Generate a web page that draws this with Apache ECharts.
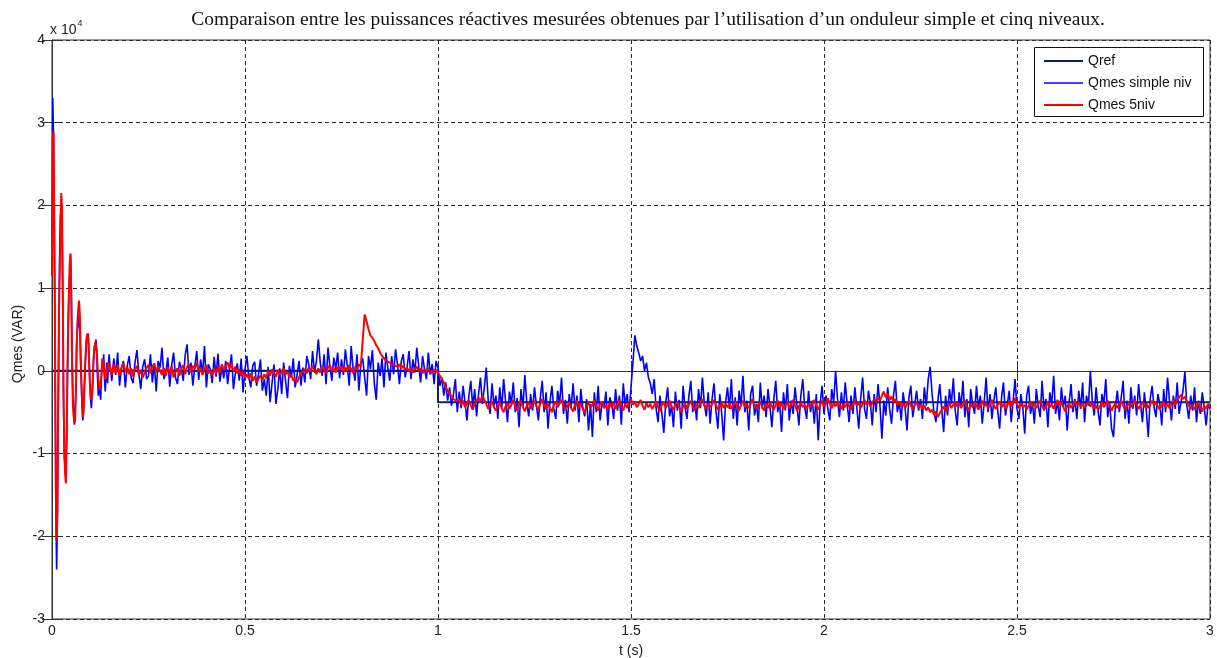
<!DOCTYPE html>
<html>
<head>
<meta charset="utf-8">
<script src="https://cdn.jsdelivr.net/npm/echarts@6/dist/echarts.min.js"></script>
<style>
  html, body { margin: 0; padding: 0; background: #fff; }
  #chart { width: 1217px; height: 658px; }
</style>
</head>
<body>
<div id="chart"></div>
<script>
// Reactive power values are stored in hundreds of VAR (axis labels show units of 10^4 VAR).

// Reference set-point: step at t = 1 s
const qrefTimes = [0, 1, 1, 3];
const qrefValues = [0, 0, -38, -38];

// Sampling of the measured signals
const startStep = 0.002;   // s, start-up transient (0 to 0.148 s)
const mainStart = 0.15;    // s
const mainStep = 0.005;    // s, from 0.15 s to 3 s

// Qmes, single-level inverter: start-up transient
const simpleStart = [
  120, 330, 280, 170, 30, -170, -240, -180, -60, 60,
  150, 190, 170, 190, 80, -50, -105, -120, -100, -90,
  -10, 50, 100, 120, 140, 100, 20, -30, -50, -65,
  -45, -25, 35, 50, 55, 70, 60, 10, -15, -45,
  -60, -40, -15, 5, 25, 40, 35, 45, 15, -10,
  -35, -45, -30, -10, 20, 30, 25, 38, 20, -10,
  -30, -20, -25, -35, -10, 15, 5, 20, -10, -25,
  -5, 10, -15, 5, 20
];

// Qmes, single-level inverter: 0.15 s to 3 s
const simpleMain = [
  8, -12, 15, -5, 22, -18, 3, 12, -20, 6, 18, -8, -15, 10, 25, -3, -22, 5, 14, -10,
  -6, 20, -14, 9, -25, 12, 4, 28, -10, -2, 16, -19, 7, 22, -8, -16, 11, 3, -12, 19,
  32, -5, 10, -18, 6, 24, -11, 14, -4, 30, -20, 8, 2, -15, 17, -7, 21, -13, 5, -9,
  12, -16, 4, 20, -22, -3, 9, -12, 15, -26, 2, 18, -8, -20, 6, 11, -18, -4, 14, -24,
  -10, -30, 5, -38, -15, 8, -40, -22, 3, -28, 10, -12, -33, 6, -8, 15, -20, -5, 12, -18,
  4, -14, 18, 8, -10, 24, -2, 12, 38, 10, -6, 20, -16, 28, 5, -12, 16, 2, 22, -9,
  14, -5, 26, 6, -18, 30, 3, -12, 20, -24, 8, 15, -8, -30, 18, 2, 25, -15, -35, 10,
  -6, 15, -20, 22, 4, -12, 18, -4, 26, 8, -16, 12, 20, -8, 5, 24, -10, 14, -2, 28,
  6, -14, 18, 2, -10, 22, -4, 8, -16, 12, 4, -18, -8, -30, -14, -36, -20, -42, -28, -10,
  -50, -25, -45, -18, -38, -60, -30, -12, -44, -22, -55, -28, -8, -40, -20, 4, -35, -52, -15, -42,
  -30, -58, -20, -46, -10, -36, -62, -25, -40, -14, -50, -33, -68, -22, -45, -5, -38, -55, -28, -48,
  -20, -42, -60, -32, -12, -50, -26, -70, -38, -18, -46, -58, -24, -40, -8, -52, -35, -64, -28, -44,
  -15, -48, -30, -62, -22, -44, -55, -34, -72, -40, -80, -26, -50, -18, -60, -38, -45, -25, -66, -32,
  -40, -58, -22, -48, -30, -65, -15, -42, -28, -50, -20, 10, 43, 30, 22, 12, 18, 0, 10, -8,
  -15, -28, -10, -45, -62, -30, -52, -75, -38, -20, -55, -42, -68, -25, -48, -35, -70, -18, -44, -58,
  -30, -12, -50, -36, -60, -22, -45, -8, -40, -55, -26, -64, -34, -15, -48, -70, -28, -52, -84, -38,
  -20, -46, -10, -58, -32, -66, -24, -42, -6, -50, -36, -72, -28, -18, -54, -40, -62, -14, -46, -30,
  -56, -22, -44, -68, -34, -12, -50, -38, -74, -26, -48, -16, -60, -36, -52, -20, -42, -66, -30, -10,
  -44, -58, -24, -50, -36, -64, -28, -84, -40, -18, -52, -30, -46, -60, -22, -38, 0, -34, -56, -26,
  -48, -14, -40, -62, -30, -52, -20, -44, -70, -34, -8, -46, -58, -24, -38, -66, -28, -50, -16, -42,
  -82, -36, -54, -20, -46, -64, -30, -12, -50, -38, -60, -26, -44, -72, -32, -18, -56, -40, -24, -48,
  -34, -58, -20, -42, -10, 5, -28, -50, -62, -36, -16, -46, -74, -30, -54, -22, -40, -9, -48, -66,
  -26, -44, -12, -56, -34, -68, -22, -40, -52, -18, -46, -30, -64, -38, -8, -50, -28, -58, -36, -20,
  -48, -70, -32, -14, -54, -40, -24, -62, -36, -10, -46, -58, -28, -44, -76, -30, -18, -52, -38, -64,
  -22, -42, -56, -12, -48, -34, -68, -26, -40, -6, -52, -36, -60, -20, -44, -30, -72, -38, -16, -50,
  -34, -58, -24, -46, -14, -62, -30, -42, 0, -36, -54, -20, -48, -66, -28, -40, -10, -56, -38, -70,
  -80, -42, -24, -50, -32, -12, -58, -36, -64, -20, -46, -30, -54, -16, -40, -62, -26, -48, -80, -34,
  -18, -44, -56, -28, -40, -66, -22, -50, -8, -36, -60, -30, -46, -14, -52, -38, -24, -1, -42, -58,
  -30, -48, -20, -62, -36, -52, -26, -44, -66, -40, -46
];

// Qmes, five-level inverter: start-up transient
const fiveStart = [
  115, 280, 290, 170, 20, -150, -205, -170, -40, 70,
  120, 175, 215, 195, 90, -30, -95, -125, -136, -80,
  0, 60, 95, 130, 142, 90, 10, -40, -55, -63,
  -60, -20, 30, 60, 75, 85, 70, 30, -10, -40,
  -56, -50, -20, 10, 30, 42, 45, 38, 10, -15,
  -30, -35, -30, -5, 15, 28, 35, 37, 25, 5,
  -10, -20, -23, -15, -5, 8, 14, 10, -2, -10,
  -12, -4, 6, 10, 2
];

// Qmes, five-level inverter: 0.15 s to 3 s
const fiveMain = [
  6, -5, 8, -3, 7, -6, 4, 9, -2, 5, -4, 3, -7, 2, 6, -5, 1, -8, -2, 4,
  7, -3, 5, 9, -2, 6, 0, -5, 3, -6, 4, -3, 6, -8, -1, 3, -6, 2, 7, -4,
  5, 8, -2, 6, 3, 10, -1, 4, -5, 2, 7, -3, 0, -6, 3, -4, 5, -2, 8, 1,
  6, 10, 3, 8, 0, 5, -3, 2, -6, -1, -8, -4, -10, -3, -12, -7, -14, -9, -6, -11,
  -4, -9, 0, -6, 2, -3, -7, 1, -5, -2, 3, -4, -1, -8, -5, -12, -9, -14, -8, -3,
  -5, 2, -3, 4, -1, 6, 0, -4, 3, -2, 5, 1, -3, 4, 7, 0, 3, -2, 5, 2,
  6, -1, 4, 0, 7, 2, -3, 5, 1, 8, 5, 38, 68, 60, 50, 43, 40, 36, 31, 27,
  22, 18, 16, 12, 14, 10, 12, 7, 9, 5, 8, 3, 6, 1, 4, -1, 3, -2, 2, 5,
  0, 3, -3, 2, -1, 4, -4, 0, -2, 1, -3, -6, -10, -14, -20, -24, -27, -31, -34, -32,
  -37, -34, -41, -36, -44, -39, -35, -42, -47, -40, -36, -32, -38, -29, -35, -40, -46, -41, -37, -44,
  -48, -42, -38, -45, -50, -43, -39, -46, -41, -35, -43, -48, -40, -36, -44, -49, -42, -38, -46, -41,
  -36, -43, -47, -39, -34, -42, -46, -40, -45, -50, -41, -37, -44, -39, -35, -42, -47, -43, -38, -45,
  -49, -41, -36, -44, -40, -46, -51, -43, -38, -45, -41, -35, -43, -48, -40, -37, -45, -42, -47, -39,
  -44, -38, -46, -41, -36, -43, -48, -40, -45, -39, -34, -41, -37, -44, -40, -35, -42, -47, -39, -44,
  -40, -46, -42, -37, -44, -49, -41, -38, -45, -40, -36, -43, -47, -41, -38, -44, -50, -43, -39, -46,
  -41, -36, -43, -48, -40, -45, -38, -34, -42, -46, -39, -44, -40, -35, -41, -47, -43, -38, -45, -40,
  -44, -39, -46, -42, -37, -43, -48, -41, -36, -44, -40, -45, -39, -34, -42, -46, -41, -37, -44, -48,
  -40, -45, -38, -43, -47, -41, -36, -44, -39, -46, -42, -37, -45, -40, -35, -42, -48, -43, -38, -44,
  -41, -46, -39, -44, -40, -35, -42, -47, -41, -36, -43, -38, -33, -40, -45, -39, -43, -37, -42, -46,
  -40, -44, -38, -43, -47, -41, -36, -42, -38, -45, -40, -35, -41, -37, -43, -39, -34, -38, -32, -36,
  -30, -25, -32, -28, -35, -31, -38, -34, -41, -37, -43, -39, -45, -40, -36, -42, -47, -41, -38, -44,
  -40, -46, -42, -48, -44, -50, -47, -53, -49, -56, -51, -47, -43, -49, -44, -39, -45, -41, -37, -43,
  -39, -45, -41, -36, -43, -48, -40, -44, -38, -42, -47, -41, -36, -43, -39, -45, -40, -35, -42, -46,
  -41, -37, -44, -40, -46, -42, -36, -43, -38, -33, -40, -45, -39, -44, -41, -47, -42, -37, -43, -39,
  -45, -40, -36, -42, -47, -43, -38, -44, -40, -46, -41, -35, -42, -38, -44, -49, -43, -39, -45, -41,
  -36, -42, -38, -44, -40, -45, -41, -37, -43, -39, -46, -42, -47, -43, -38, -44, -40, -36, -42, -48,
  -43, -39, -45, -41, -36, -42, -47, -43, -38, -44, -40, -35, -41, -46, -42, -37, -44, -39, -45, -40,
  -36, -42, -38, -43, -47, -41, -37, -44, -40, -45, -39, -35, -41, -36, -32, -29, -34, -31, -37, -42,
  -46, -41, -47, -43, -38, -45, -49, -42, -46, -40, -44
];

const seriesNames = ['Qref', 'Qmes simple niv', 'Qmes 5niv'];
const seriesColors = ['#0f1f5a', '#0000ff', '#ff0000'];
const titleText = 'Comparaison entre les puissances réactives mesurées obtenues par l\u2019utilisation d\u2019un onduleur simple et cinq niveaux.';

function toPairs(t0, step, values) {
  return values.map((v, i) => [+(t0 + i * step).toFixed(4), v]);
}

const qrefData = qrefTimes.map((t, i) => [t, qrefValues[i]]);
const simpleData = toPairs(0, startStep, simpleStart).concat(toPairs(mainStart, mainStep, simpleMain));
const fiveData = toPairs(0, startStep, fiveStart).concat(toPairs(mainStart, mainStep, fiveMain));

const sansFont = '"Liberation Sans", Arial, sans-serif';
const serifFont = '"Liberation Serif", "Times New Roman", serif';
const axisColor = '#333';
const gridLine = { show: true, lineStyle: { type: [4, 3], color: '#2a2a2a', width: 1 } };
const tickStyle = { show: true, inside: true, length: 10, lineStyle: { color: axisColor } };

const chart = echarts.init(document.getElementById('chart'), null, { renderer: 'canvas' });

chart.setOption({
  animation: false,
  backgroundColor: '#fff',
  grid: {
    left: 52, right: 7, top: 40, bottom: 39,
    outerBoundsMode: 'none',
    show: true, borderColor: axisColor, borderWidth: 1, backgroundColor: '#fff'
  },
  xAxis: [
    {
      type: 'value', min: 0, max: 3, interval: 0.5,
      axisLine: { show: true, lineStyle: { color: axisColor } },
      axisTick: tickStyle,
      axisLabel: {
        color: '#222', fontFamily: sansFont, fontSize: 14, margin: 5,
        formatter: v => String(+v.toFixed(2))
      },
      splitLine: gridLine,
      name: 't (s)', nameLocation: 'middle', nameGap: 25,
      nameTextStyle: { color: '#222', fontFamily: sansFont, fontSize: 14 }
    },
    {
      type: 'value', position: 'top', min: 0, max: 3, interval: 0.5,
      axisLine: { show: true, lineStyle: { color: axisColor } },
      axisTick: tickStyle, axisLabel: { show: false }, splitLine: { show: false }
    }
  ],
  yAxis: [
    {
      type: 'value', min: -300, max: 400, interval: 100,
      axisLine: { show: true, lineStyle: { color: axisColor } },
      axisTick: tickStyle,
      axisLabel: {
        color: '#222', fontFamily: sansFont, fontSize: 14, margin: 7,
        formatter: v => String(Math.round(v / 100))
      },
      splitLine: gridLine
    },
    {
      type: 'value', position: 'right', min: -300, max: 400, interval: 100,
      axisLine: { show: true, lineStyle: { color: axisColor } },
      axisTick: tickStyle, axisLabel: { show: false }, splitLine: { show: false }
    }
  ],
  legend: {
    data: seriesNames,
    orient: 'vertical',
    left: 1043, top: 54,
    itemWidth: 39, itemHeight: 14, itemGap: 8,
    padding: 0,
    itemStyle: { opacity: 0 },
    lineStyle: { width: 'inherit' },
    textStyle: { color: '#111', fontFamily: sansFont, fontSize: 14 },
    z: 6
  },
  graphic: [
    {
      type: 'text', x: 648, y: 20, z: 10,
      style: { text: titleText, font: '19.5px ' + serifFont, fill: '#111', align: 'center', verticalAlign: 'middle' }
    },
    {
      type: 'text', x: 50, y: 19, z: 10,
      style: {
        text: '{b|x 10}{s|4}',
        rich: {
          b: { font: '14px ' + sansFont, fill: '#222', verticalAlign: 'bottom' },
          s: { font: '9px ' + sansFont, fill: '#222', verticalAlign: 'top', padding: [0, 0, 9, 1] }
        }
      }
    },
    {
      type: 'text', x: 18, y: 344, rotation: Math.PI / 2, z: 10,
      style: { text: 'Qmes (VAR)', font: '14px ' + sansFont, fill: '#222', align: 'center', verticalAlign: 'middle' }
    },
    {
      type: 'rect', z: 5,
      shape: { x: 1034.5, y: 47.5, width: 169, height: 69 },
      style: { fill: '#fff', stroke: '#111', lineWidth: 1 }
    }
  ],
  series: [
    {
      name: seriesNames[0], type: 'line', data: qrefData,
      symbol: 'none', showSymbol: false, z: 2,
      lineStyle: { color: seriesColors[0], width: 2 }, itemStyle: { color: seriesColors[0] }
    },
    {
      name: seriesNames[1], type: 'line', data: simpleData,
      symbol: 'none', showSymbol: false, z: 3,
      lineStyle: { color: seriesColors[1], width: 1.6 }, itemStyle: { color: seriesColors[1] }
    },
    {
      name: seriesNames[2], type: 'line', data: fiveData,
      symbol: 'none', showSymbol: false, z: 4,
      lineStyle: { color: seriesColors[2], width: 2 }, itemStyle: { color: seriesColors[2] }
    }
  ]
});
</script>
</body>
</html>
